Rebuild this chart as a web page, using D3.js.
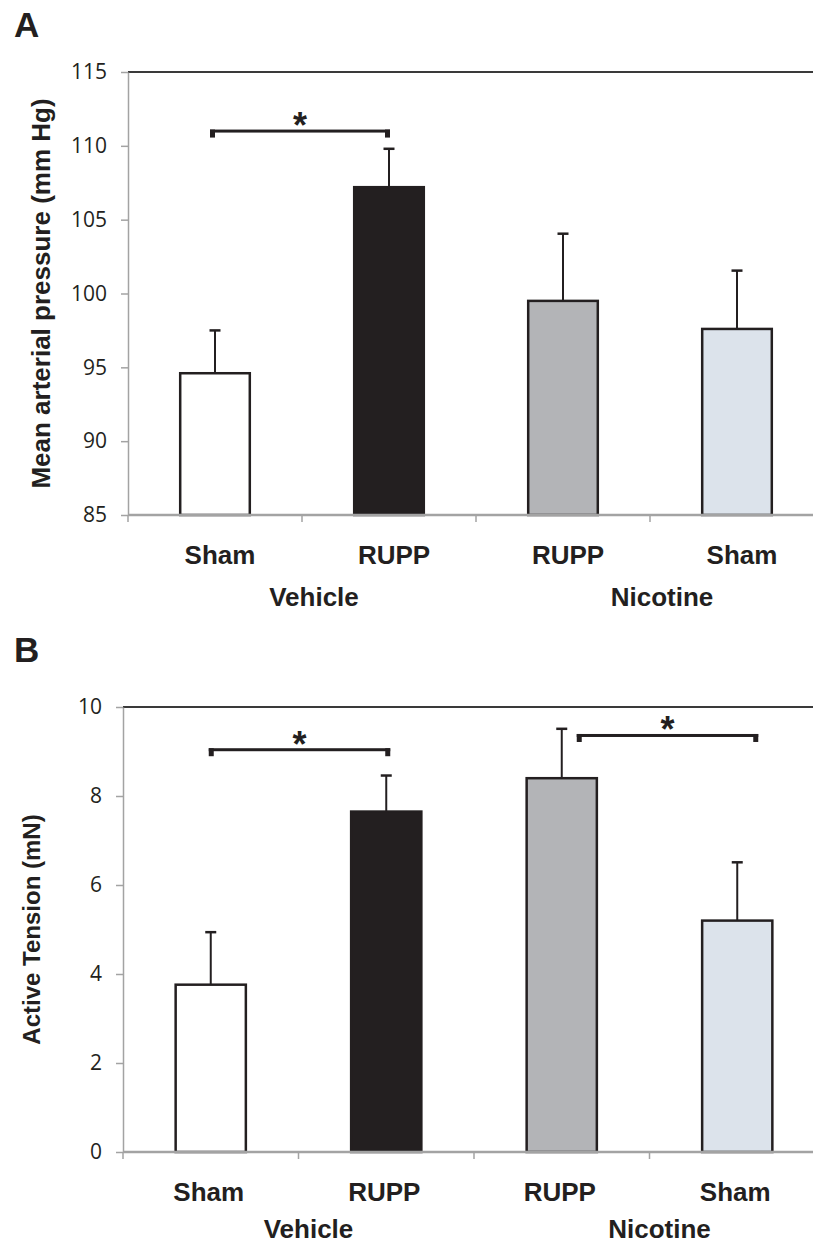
<!DOCTYPE html>
<html>
<head>
<meta charset="utf-8">
<script src="https://cdn.jsdelivr.net/npm/d3@7"></script>
<style>
  body { margin: 0; background: #fff; }
  svg { display: block; }
</style>
</head>
<body>
<script>
// categories along the x axis, in drawing order
const categories = ['Sham', 'RUPP', 'RUPP', 'Sham'];
const groups = ['Vehicle', 'Nicotine'];
const barFills = ['#ffffff', '#231f20', '#b3b4b7', '#dce3eb'];

// panel A: mean arterial pressure (mm Hg), mean and upper SEM
const mapMean = [94.6, 107.2, 99.5, 97.6];
const mapErr = [2.9, 2.6, 4.55, 3.95];
const mapTicks = [85, 90, 95, 100, 105, 110, 115];
const mapSig = [{from: 0, to: 1, at: 111}];

// panel B: active tension (mN)
const tensionMean = [3.76, 7.65, 8.4, 5.2];
const tensionErr = [1.18, 0.81, 1.11, 1.31];
const tensionTicks = [0, 2, 4, 6, 8, 10];
const tensionSig = [{from: 0, to: 1, at: 9.04}, {from: 2, to: 3, at: 9.36}];

const W = 813, H = 1247;
const ink = '#231f20';
const axisGray = '#a3a3a3';
const boldFont = '"Liberation Sans", Arial, sans-serif';

const svg = d3.select('body')
              .append('svg')
              .attr('width', W)
              .attr('height', H)

function drawPanel(cfg) {
  const g = svg.append('g');

  const x = d3.scaleBand()
              .domain(d3.range(categories.length))
              .range([cfg.left, cfg.right])
              .paddingInner(0.6)
              .paddingOuter(0.3)
  const y = d3.scaleLinear()
              .domain([cfg.ticks[0], cfg.ticks[cfg.ticks.length - 1]])
              .range([cfg.bottom, cfg.top])
  const cx = i => x(i) + x.bandwidth() / 2;

  // panel letter
  g.append('text')
   .attr('x', 14)
   .attr('y', cfg.letterY)
   .style('font', `bold 35px ${boldFont}`)
   .style('fill', ink)
   .text(cfg.letter)

  // frame line across the top
  g.append('line')
   .attr('x1', cfg.left).attr('x2', W)
   .attr('y1', y(cfg.ticks[cfg.ticks.length - 1])).attr('y2', y(cfg.ticks[cfg.ticks.length - 1]))
   .style('stroke', '#3a3a3a')
   .style('stroke-width', 2)

  // y axis
  const yAxis = d3.axisLeft(y)
                  .tickValues(cfg.ticks)
                  .tickSize(7)
                  .tickSizeOuter(0)
                  .tickPadding(14)
  const ya = g.append('g')
              .attr('transform', `translate(${cfg.left},0)`)
              .call(yAxis)
  ya.select('.domain').style('stroke', axisGray).style('stroke-width', 1.5)
  ya.selectAll('.tick line').style('stroke', axisGray).style('stroke-width', 1.5)
  ya.selectAll('.tick text')
    .style('font', '21px "Open Sans", sans-serif')
    .style('fill', ink)

  // y title
  g.append('text')
   .attr('transform', `translate(${cfg.titleX},${(cfg.top + cfg.bottom) / 2}) rotate(-90)`)
   .attr('text-anchor', 'middle')
   .style('font', `bold ${cfg.titleSize}px ${boldFont}`)
   .style('fill', ink)
   .text(cfg.title)

  // bars
  g.append('g')
   .selectAll('rect')
   .data(cfg.mean)
   .enter()
   .append('rect')
   .attr('x', (d, i) => x(i))
   .attr('y', d => y(d))
   .attr('width', x.bandwidth())
   .attr('height', d => y(cfg.ticks[0]) - y(d))
   .style('fill', (d, i) => barFills[i])
   .style('stroke', ink)
   .style('stroke-width', 2.5)

  // upper error bars
  const err = g.append('g')
               .selectAll('g')
               .data(cfg.mean.map((m, i) => ({m: m, e: cfg.err[i], i: i})))
               .enter()
               .append('g')
               .style('stroke', ink)
  err.append('line')
     .attr('x1', d => cx(d.i)).attr('x2', d => cx(d.i))
     .attr('y1', d => y(d.m)).attr('y2', d => y(d.m + d.e))
     .style('stroke-width', 2)
  err.append('line')
     .attr('x1', d => cx(d.i) - 5.5).attr('x2', d => cx(d.i) + 5.5)
     .attr('y1', d => y(d.m + d.e)).attr('y2', d => y(d.m + d.e))
     .style('stroke-width', 2.5)

  // x axis line and category boundary ticks
  g.append('line')
   .attr('x1', cfg.left).attr('x2', W)
   .attr('y1', cfg.bottom).attr('y2', cfg.bottom)
   .style('stroke', axisGray)
   .style('stroke-width', 2.5)
  g.append('g')
   .selectAll('line')
   .data(d3.range(categories.length + 1))
   .enter()
   .append('line')
   .attr('x1', i => cfg.left + i * x.step()).attr('x2', i => cfg.left + i * x.step())
   .attr('y1', cfg.bottom).attr('y2', cfg.bottom + 7)
   .style('stroke', axisGray)
   .style('stroke-width', 1.5)

  // category labels
  g.append('g')
   .selectAll('text')
   .data(categories)
   .enter()
   .append('text')
   .attr('x', (d, i) => cx(i) + cfg.labelShift)
   .attr('y', cfg.bottom + 49)
   .attr('text-anchor', 'middle')
   .style('font', `bold 26px ${boldFont}`)
   .style('fill', ink)
   .text(d => d)

  // group labels under each pair
  g.append('g')
   .selectAll('text')
   .data(groups)
   .enter()
   .append('text')
   .attr('x', (d, k) => (cx(2 * k) + cx(2 * k + 1)) / 2 + cfg.groupShift)
   .attr('y', cfg.bottom + cfg.groupDy)
   .attr('text-anchor', 'middle')
   .style('font', `bold 26px ${boldFont}`)
   .style('fill', ink)
   .text(d => d)

  // significance brackets
  cfg.sig.forEach((s, k) => {
    const x1 = cx(s.from) - 5 + cfg.bracketShift[k];
    const x2 = cx(s.to) + 1 + cfg.bracketShift[k];
    const yy = y(s.at);
    const b = g.append('g').style('fill', ink);
    b.append('rect').attr('x', x1).attr('y', yy - 1.5).attr('width', x2 - x1).attr('height', 3)
    b.append('rect').attr('x', x1).attr('y', yy - 1.5).attr('width', 5).attr('height', 8)
    b.append('rect').attr('x', x2 - 5).attr('y', yy - 1.5).attr('width', 5).attr('height', 8)
    b.append('text')
     .attr('x', (x1 + x2) / 2)
     .attr('y', yy + 7)
     .attr('text-anchor', 'middle')
     .style('font', `bold 36px ${boldFont}`)
     .text('*')
  })
}

drawPanel({
  letter: 'A', letterY: 37,
  title: 'Mean arterial pressure (mm Hg)', titleX: 50, titleSize: 26,
  mean: mapMean, err: mapErr, ticks: mapTicks, sig: mapSig,
  left: 128, right: 824, top: 72, bottom: 515,
  labelShift: 5, groupShift: 12, groupDy: 91, bracketShift: [0]
})

drawPanel({
  letter: 'B', letterY: 662,
  title: 'Active Tension (mN)', titleX: 40, titleSize: 24,
  mean: tensionMean, err: tensionErr, ticks: tensionTicks, sig: tensionSig,
  left: 123, right: 825, top: 707, bottom: 1152,
  labelShift: -2, groupShift: 10, groupDy: 86, bracketShift: [3, 20]
})
</script>
</body>
</html>
